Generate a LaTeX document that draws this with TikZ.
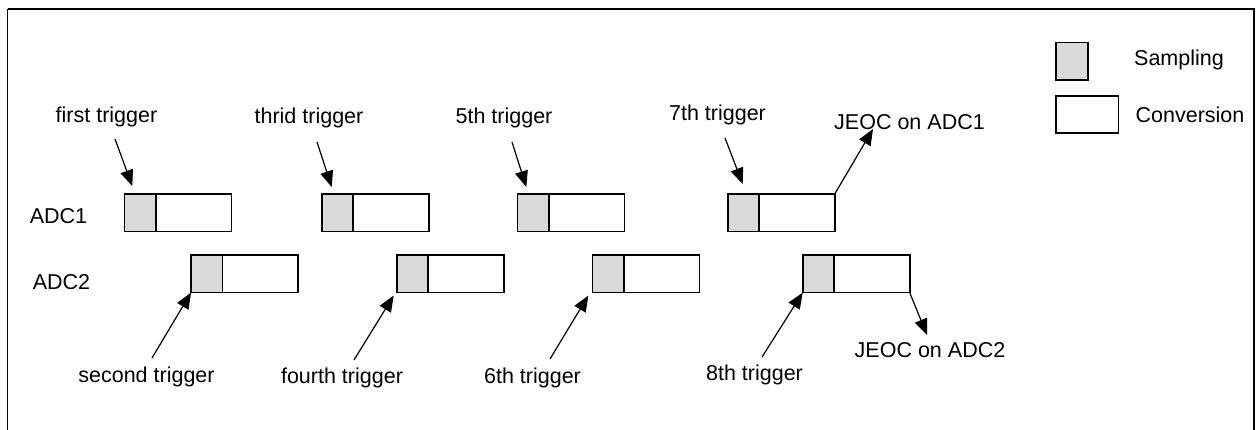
\documentclass[tikz,border=0pt]{standalone}
\usepackage{fontspec}
\setmainfont{Liberation Sans}
\usetikzlibrary{arrows.meta,calc}
\definecolor{sampfill}{RGB}{217,217,217}
\tikzset{
  lbl/.style={inner sep=0pt, font=\fontsize{10.75pt}{12pt}\selectfont},
  samp/.style={draw, line width=0.8pt, fill=sampfill, inner sep=0pt, outer sep=0pt,
    minimum width=15.75pt, minimum height=18.8pt, anchor=north west},
  conv/.style={draw, line width=0.8pt, fill=white, inner sep=0pt, outer sep=0pt,
    minimum width=37.75pt, minimum height=18.8pt, anchor=north west},
  lconv/.style={conv, minimum width=31.3pt},
  arr/.style={line width=0.6pt, -{Triangle[length=8pt,width=6.5pt]}},
}
\begin{document}
\begin{tikzpicture}[x=0.5pt,y=-0.5pt]
\useasboundingbox (0,0) rectangle (1257,429);
\clip (0,0) rectangle (1257,429);
\fill[white] (0,0) rectangle (1257,429);
\draw[line width=0.6pt] (7.5,9) -- (1254,9) -- (1254,440);
\draw[line width=0.6pt] (7.5,9) -- (7.5,440);

% row labels
\node[lbl] (adc1) at (58.5,216) {ADC1};
\node[lbl] (adc2) at (61.5,282) {ADC2};

% ADC1 boxes
\foreach \n/\x in {1/124.3, 2/321.7, 3/517.3, 4/727.7}{
  \node[samp] (a\n s) at (\x,194) {};
  \node[conv] (a\n c) at ($(\x,194)+(31.5,0)$) {};
}
% ADC2 boxes
\foreach \n/\x in {1/191, 2/396.7, 3/592.3, 4/802.7}{
  \node[samp] (b\n s) at (\x,255) {};
  \node[conv] (b\n c) at ($(\x,255)+(31.5,0)$) {};
}

% trigger labels
\node[lbl] (t1) at (106.5,117) {first trigger};
\node[lbl] (t3) at (309,118) {thrid trigger};
\node[lbl] (t5) at (504,118) {5th trigger};
\node[lbl] (t7) at (717.5,115) {7th trigger};
\node[lbl] (t2) at (146.5,377) {second trigger};
\node[lbl] (t4) at (342,378) {fourth trigger};
\node[lbl] (t6) at (532.5,378) {6th trigger};
\node[lbl] (t8) at (754.5,375) {8th trigger};
\node[lbl] (j1) at (909.5,122) {JEOC on ADC1};
\node[lbl] (j2) at (930,350) {JEOC on ADC2};

% arrow start coordinates
\coordinate (s1) at (115,139);
\coordinate (s3) at (317,142);
\coordinate (s5) at (512,142);
\coordinate (s7) at (725,138);
\coordinate (s2) at (152,358);
\coordinate (s4) at (354,360);
\coordinate (s6) at (550,359);
\coordinate (s8) at (762,357);

\draw[arr] (s1) -- ($(a1s.north west)+(8,-8)$);
\draw[arr] (s3) -- ($(a2s.north west)+(10,-7)$);
\draw[arr] (s5) -- ($(a3s.north west)+(9,-7)$);
\draw[arr] (s7) -- ($(a4s.north west)+(15,-10)$);
\draw[arr] (s2) -- (b1s.south west);
\draw[arr] (s4) -- ($(b2s.south west)+(-3,3)$);
\draw[arr] (s6) -- ($(b3s.south west)+(-4,3)$);
\draw[arr] (s8) -- (b4s.south west);
\draw[arr] (a4c.north east) -- (873,129);
\draw[arr] (b4c.south east) -- (927,335);

% legend
\node[samp, minimum height=18.85pt, minimum width=16pt] (ls) at (1055.7,42.3) {};
\node[conv, minimum height=18.5pt, minimum width=31.3pt] (lc) at (1055.7,95.7) {};
\node[lbl] (lst) at (1179,60) {Sampling};
\node[lbl] (lct) at (1190,115) {Conversion};
\end{tikzpicture}
\end{document}
